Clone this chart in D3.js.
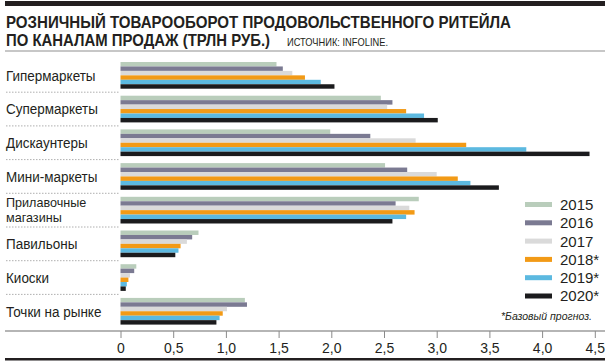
<!DOCTYPE html>
<html>
<head>
<meta charset="utf-8">
<script src="https://cdn.jsdelivr.net/npm/d3@7"></script>
<style>
  body { margin: 0; background: #fff; }
  svg { display: block; font-family: "Liberation Sans Narrow", "Arial Narrow", "Liberation Sans", sans-serif; }
</style>
</head>
<body>
<script>
(function() {

  var categories = ["Гипермаркеты", "Супермаркеты", "Дискаунтеры", "Мини-маркеты",
                    "Прилавочные магазины", "Павильоны", "Киоски", "Точки на рынке"],
      years      = ["2015", "2016", "2017", "2018*", "2019*", "2020*"],
      colors     = ["#b9cdbb", "#7b7a92", "#dadada", "#f29a16", "#5cb9e0", "#1b1b1d"],
      v2015 = [1.48, 2.47, 1.99, 2.51, 2.83, 0.74, 0.15, 1.18],
      v2016 = [1.54, 2.58, 2.37, 2.72, 2.61, 0.68, 0.13, 1.20],
      v2017 = [1.63, 2.53, 2.80, 3.00, 2.74, 0.63, 0.09, 1.01],
      v2018 = [1.75, 2.71, 3.28, 3.20, 2.79, 0.57, 0.075, 0.97],
      v2019 = [1.90, 2.88, 3.85, 3.32, 2.71, 0.55, 0.06, 0.94],
      v2020 = [2.03, 3.01, 4.45, 3.59, 2.58, 0.52, 0.05, 0.91],
      series = [v2015, v2016, v2017, v2018, v2019, v2020],
      ticks  = [0, 0.5, 1, 1.5, 2, 2.5, 3, 3.5, 4, 4.5],
      width  = 610, height = 363,
      ink    = "#231f20",
      svg, x, y, yy;

  svg = d3.select("body").append("svg")
      .attr("width", width)
      .attr("height", height);

  /* title block */
  svg.append("rect").attr("x", 5).attr("y", 1).attr("width", 600).attr("height", 5).attr("fill", ink);
  svg.append("text").attr("x", 6).attr("y", 28)
      .attr("font-size", 16.5).attr("font-weight", "bold").attr("fill", ink)
      .attr("textLength", 505).attr("lengthAdjust", "spacingAndGlyphs")
      .text("РОЗНИЧНЫЙ ТОВАРООБОРОТ ПРОДОВОЛЬСТВЕННОГО РИТЕЙЛА");
  svg.append("text").attr("x", 6).attr("y", 46)
      .attr("font-size", 16.5).attr("font-weight", "bold").attr("fill", ink)
      .attr("textLength", 264).attr("lengthAdjust", "spacingAndGlyphs")
      .text("ПО КАНАЛАМ ПРОДАЖ (ТРЛН РУБ.)");
  svg.append("text").attr("x", 287).attr("y", 46)
      .attr("font-size", 10.5).attr("fill", ink)
      .attr("textLength", 101).attr("lengthAdjust", "spacingAndGlyphs")
      .text("ИСТОЧНИК: INFOLINE.");
  svg.append("line").attr("x1", 5).attr("x2", 605).attr("y1", 51).attr("y2", 51)
      .attr("stroke", "#b5b5b5").attr("stroke-width", 1.5);

  /* scales */
  x = d3.scaleLinear().domain([0, 4.5]).range([120.5, 594.8]);
  y = d3.scaleBand().domain(categories).range([58.5, 58.5 + 8 * 33.7])
        .paddingInner(0.208).paddingOuter(0.104);
  yy = d3.scaleBand().domain(years).range([0, y.bandwidth()]);

  /* bars */
  var groups = svg.append("g").selectAll("g")
      .data(categories)
      .enter().append("g")
        .attr("transform", function(d) { return "translate(0," + y(d) + ")"; });

  groups.selectAll("rect")
      .data(function(d, i) { return years.map(function(yr, j) { return { yr: yr, v: series[j][i], c: colors[j] }; }); })
      .enter().append("rect")
        .attr("x", x(0))
        .attr("y", function(d) { return yy(d.yr); })
        .attr("width", function(d) { return x(d.v) - x(0); })
        .attr("height", yy.bandwidth())
        .attr("fill", function(d) { return d.c; });

  /* category labels, horizontally condensed */
  groups.append("text")
      .attr("fill", ink)
      .each(function(d) {
        var words = d.split(" "),
            el = d3.select(this),
            mid = y.bandwidth() / 2;
        if (d === "Прилавочные магазины") {
          el.attr("font-size", 13)
            .attr("transform", "translate(6," + mid + ") scale(0.97,1)");
          el.append("tspan").attr("x", 0).attr("y", -7.5).attr("dy", "0.35em").text(words[0]);
          el.append("tspan").attr("x", 0).attr("y", 7.5).attr("dy", "0.35em").text(words[1]);
        } else {
          el.attr("font-size", 15.5)
            .attr("transform", "translate(6," + mid + ") scale(0.87,1)")
            .attr("y", 0).attr("dy", "0.35em").text(d);
        }
      });

  /* dotted separators */
  svg.append("g").selectAll("line")
      .data(categories.slice(0, -1))
      .enter().append("line")
        .attr("x1", 6).attr("x2", 120)
        .attr("y1", function(d) { return y(d) + y.bandwidth() + (y.step() - y.bandwidth()) / 2; })
        .attr("y2", function(d) { return y(d) + y.bandwidth() + (y.step() - y.bandwidth()) / 2; })
        .attr("stroke", "#9a9a9a").attr("stroke-width", 0.8)
        .attr("stroke-dasharray", "1.5,1.5");

  /* axis */
  var axisY = 331;
  svg.append("line").attr("x1", 5).attr("x2", 605).attr("y1", axisY).attr("y2", axisY)
      .attr("stroke", "#9d9d9d").attr("stroke-width", 1.5);

  var ax = svg.append("g")
      .attr("transform", "translate(0," + axisY + ")")
      .call(d3.axisBottom(x)
        .tickValues(ticks)
        .tickSize(7)
        .tickPadding(5)
        .tickFormat(function(d) { return d === 0 ? "0" : d3.format(".1f")(d).replace(".", ","); }));
  ax.select(".domain").remove();
  ax.selectAll(".tick line").attr("stroke", "#8a8a8a");
  ax.selectAll(".tick text").attr("font-size", 14).attr("fill", ink)
      .attr("font-family", "\"Liberation Sans Narrow\", \"Arial Narrow\", sans-serif");

  svg.append("rect").attr("x", 5).attr("y", 358).attr("width", 600).attr("height", 2.5).attr("fill", ink);

  /* legend */
  var legend = svg.append("g").selectAll("g")
      .data(years)
      .enter().append("g")
        .attr("transform", function(d, i) { return "translate(525," + (204.5 + i * 18.3) + ")"; });

  legend.append("rect")
      .attr("x", 0).attr("y", -2.5)
      .attr("width", 27).attr("height", 5)
      .attr("fill", function(d, i) { return colors[i]; });

  legend.append("text")
      .attr("x", 35).attr("dy", "0.36em")
      .attr("font-size", 15).attr("fill", ink)
      .text(function(d) { return d; });

  svg.append("text")
      .attr("x", 592).attr("y", 320)
      .attr("text-anchor", "end")
      .attr("font-size", 10.5).attr("font-style", "italic").attr("fill", ink)
      .text("*Базовый прогноз.");

}());
</script>
</body>
</html>
